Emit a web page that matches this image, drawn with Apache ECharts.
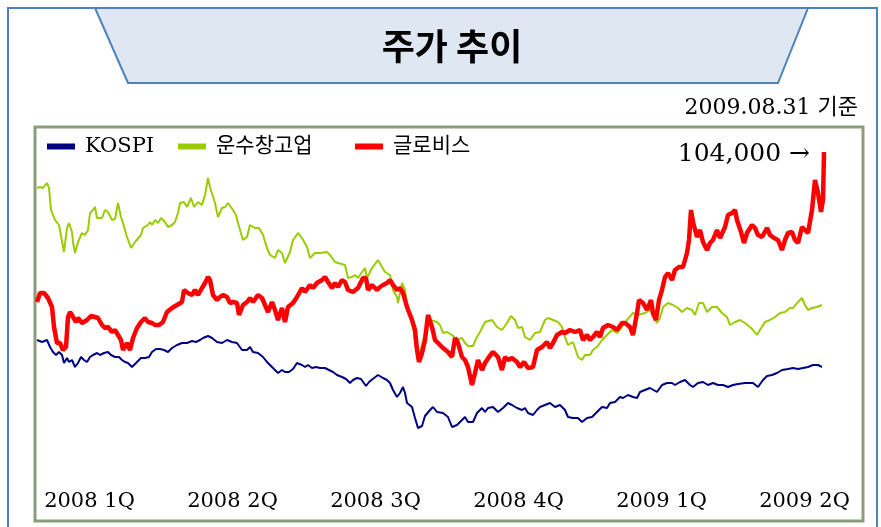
<!DOCTYPE html>
<html>
<head>
<meta charset="utf-8">
<script src="https://cdn.jsdelivr.net/npm/echarts@6/dist/echarts.min.js"></script>
<style>
  html, body { margin: 0; padding: 0; background: #fff; }
  #chart { width: 881px; height: 527px; }
</style>
</head>
<body>
<div id="chart"></div>
<script>
// 분기 라벨
const quarters = ["2008 1Q", "2008 2Q", "2008 3Q", "2008 4Q", "2009 1Q", "2009 2Q"];

// [경과일, 상대지수] - 그림에서 읽은 값
const kospi = [
  [0,180],[5,178],[10,180],[13,173],[16,168],[19,165],[22,168],[25,165],[27,157],[30,162],
  [32,158],[35,160],[38,153],[41,157],[44,163],[47,160],[50,158],[53,163],[56,165],[60,167],
  [63,165],[67,167],[71,168],[74,165],[78,163],[82,163],[85,160],[88,158],[91,157],[95,153],
  [100,158],[104,162],[108,162],[112,163],[115,168],[119,171],[123,171],[127,170],[131,168],[135,172],
  [140,175],[145,177],[150,177],[155,179],[159,178],[163,180],[166,182],[171,184],[175,182],[180,178],
  [185,177],[190,180],[195,178],[200,177],[205,170],[210,170],[213,173],[216,168],[221,167],[226,163],
  [230,158],[235,153],[238,150],[241,147],[245,150],[248,148],[252,148],[256,151],[260,157],[265,155],
  [268,153],[271,155],[275,152],[279,153],[283,152],[288,152],[292,150],[296,148],[300,145],[305,143],
  [309,141],[313,137],[316,140],[320,142],[324,141],[326,143],[329,134],[332,138],[337,142],[341,145],
  [346,142],[350,140],[353,137],[356,130],[360,123],[363,127],[366,133],[368,127],[370,117],[375,113],
  [378,102],[381,92],[385,94],[388,104],[393,110],[396,113],[400,108],[406,107],[411,103],[415,93],
  [420,95],[425,100],[428,103],[431,98],[436,98],[440,107],[445,112],[448,108],[451,112],[456,113],
  [461,108],[466,112],[471,117],[475,115],[480,112],[485,110],[488,112],[491,107],[496,105],[500,110],
  [503,113],[508,115],[513,117],[518,113],[523,115],[528,110],[531,103],[536,102],[541,102],[545,98],
  [550,102],[555,103],[560,108],[565,113],[570,112],[573,117],[578,118],[583,123],[586,122],[591,125],
  [596,123],[600,122],[603,128],[608,130],[613,132],[620,128],[625,135],[630,137],[635,137],[638,135],
  [643,138],[648,140],[653,135],[656,133],[661,137],[666,138],[671,135],[676,137],[681,135],[686,135],
  [691,133],[696,135],[701,136],[708,137],[716,137],[721,133],[726,140],[730,144],[735,145],[740,147],
  [745,150],[751,151],[756,152],[761,151],[766,152],[771,153],[776,155],[781,155],[785,153]
];

const transport = [
  [0,332],[3,333],[6,332],[10,337],[12,332],[14,310],[18,300],[22,295],[24,297],[27,268],
  [30,292],[32,297],[35,288],[36,278],[38,267],[41,278],[43,277],[45,287],[48,285],[51,290],
  [53,307],[56,310],[58,313],[60,302],[65,302],[68,310],[71,308],[75,300],[78,301],[81,317],
  [84,303],[86,297],[90,283],[94,272],[98,278],[104,285],[106,292],[111,295],[113,298],[115,295],
  [118,300],[121,297],[124,302],[128,298],[131,293],[135,295],[138,298],[141,307],[143,317],[147,318],
  [150,313],[154,322],[157,313],[161,318],[165,315],[168,325],[171,342],[173,333],[178,317],[181,303],
  [185,312],[188,313],[191,317],[196,310],[199,305],[201,297],[206,280],[210,283],[213,295],[218,292],
  [222,292],[226,285],[230,272],[233,265],[238,262],[241,270],[245,267],[248,257],[253,268],[256,280],
  [261,287],[265,282],[270,273],[273,262],[278,267],[283,267],[290,268],[293,265],[298,258],[301,257],
  [308,255],[311,242],[315,243],[318,245],[321,242],[325,248],[328,252],[330,242],[335,252],[341,260],
  [345,253],[348,248],[353,245],[356,230],[360,223],[361,217],[365,237],[368,230],[371,210],[375,203],
  [378,177],[381,163],[385,175],[390,195],[393,200],[400,198],[403,195],[406,187],[410,188],[415,185],
  [420,180],[425,182],[428,177],[431,174],[436,174],[440,183],[443,188],[448,198],[455,200],[460,193],
  [465,190],[470,197],[474,204],[478,200],[481,192],[485,193],[488,183],[493,180],[498,187],[503,188],
  [508,200],[511,202],[516,200],[521,198],[525,193],[528,183],[531,175],[536,178],[541,163],[545,160],
  [548,165],[553,165],[556,170],[560,173],[565,180],[570,185],[575,190],[580,187],[585,193],[590,200],
  [596,207],[601,205],[608,207],[613,210],[620,197],[623,202],[626,213],[631,217],[636,215],[641,212],
  [645,208],[650,212],[655,210],[658,205],[662,217],[666,217],[670,208],[675,213],[680,213],[685,207],
  [690,203],[693,195],[698,198],[703,200],[708,197],[713,193],[716,190],[720,185],[723,190],[728,198],
  [733,200],[738,203],[743,207],[748,208],[753,212],[756,212],[760,217],[765,222],[768,215],[771,210],
  [775,212],[780,213],[785,215]
];

const glovis = [
  [0,218],[3,227],[7,227],[11,222],[15,213],[17,193],[20,177],[23,177],[26,170],[29,173],
  [31,203],[33,208],[36,203],[39,198],[41,202],[45,197],[50,200],[54,204],[58,203],[61,202],
  [65,195],[68,192],[71,193],[75,188],[78,190],[81,185],[84,180],[86,170],[90,177],[93,170],
  [96,182],[100,192],[104,198],[108,202],[111,198],[115,197],[118,195],[122,195],[126,198],[130,208],
  [135,212],[140,215],[145,218],[147,230],[151,227],[155,225],[158,230],[161,225],[165,232],[168,237],
  [171,243],[173,240],[176,225],[180,220],[183,223],[186,225],[190,223],[193,217],[196,218],[200,217],
  [202,205],[206,215],[210,218],[213,222],[216,218],[221,225],[225,222],[228,215],[231,208],[235,218],
  [238,210],[241,200],[245,212],[248,198],[251,213],[256,217],[260,223],[265,232],[268,228],[273,235],
  [276,232],[280,237],[285,240],[288,243],[291,238],[295,232],[298,237],[301,233],[305,240],[308,238],
  [311,230],[316,228],[321,232],[326,242],[329,242],[331,230],[335,235],[340,230],[343,233],[346,235],
  [350,237],[353,240],[356,235],[360,230],[363,232],[366,227],[370,213],[375,200],[378,190],[380,170],
  [382,158],[385,167],[388,180],[391,205],[395,193],[398,180],[401,177],[406,172],[411,168],[415,163],
  [418,182],[421,177],[425,163],[428,160],[431,153],[435,135],[438,147],[441,160],[445,150],[448,157],
  [452,163],[456,168],[461,163],[465,150],[468,163],[471,160],[475,162],[480,158],[483,153],[487,158],
  [491,152],[496,153],[500,170],[505,173],[510,178],[513,172],[516,177],[520,185],[525,188],[528,187],
  [533,190],[538,188],[543,190],[546,180],[550,185],[553,180],[556,183],[560,188],[563,183],[566,192],
  [571,195],[576,193],[580,190],[585,197],[588,197],[593,193],[596,185],[600,207],[602,220],[606,217],
  [610,210],[614,220],[616,207],[619,200],[622,220],[625,230],[628,243],[631,247],[635,240],[638,250],
  [642,253],[646,253],[650,267],[652,280],[654,310],[656,298],[660,283],[663,290],[666,278],[670,270],
  [673,277],[676,280],[680,290],[683,282],[688,293],[691,305],[695,307],[698,310],[700,300],[704,288],
  [707,277],[710,287],[715,295],[718,292],[721,285],[725,283],[730,292],[733,285],[737,282],[741,280],
  [745,270],[748,280],[751,287],[755,288],[758,280],[761,277],[765,293],[768,290],[771,287],[775,310],
  [778,340],[781,327],[784,308],[786,320],[787,368]
];

const chart = echarts.init(document.getElementById("chart"));
const latin = "'DejaVu Serif', 'Noto Sans CJK KR', serif";

function legendAt(name, left) {
  return {
    data: [{ name: name, icon: "rect" }],
    left: left,
    top: 131,
    itemWidth: 28,
    itemHeight: 6,
    textStyle: { fontFamily: latin, fontSize: 21, color: "#000", padding: [0, 0, 0, 5] },
  };
}

chart.setOption({
  animation: false,
  backgroundColor: "#fff",
  legend: [legendAt("KOSPI", 42), legendAt("운수창고업", 173), legendAt("글로비스", 350)],
  grid: [
    { left: 37, right: 57, top: 100, bottom: 7 },
    { left: 18, right: 5, top: 487, height: 1 },
  ],
  xAxis: [
    { type: "value", gridIndex: 0, min: 0, max: 787, show: false },
    {
      type: "category",
      gridIndex: 1,
      data: quarters,
      boundaryGap: true,
      axisLine: { show: false },
      axisTick: { show: false },
      axisLabel: { margin: 3, fontFamily: latin, fontSize: 21, color: "#000" },
    },
  ],
  yAxis: [
    { type: "value", gridIndex: 0, min: 0, max: 420, show: false },
    { type: "value", gridIndex: 1, show: false },
  ],
  graphic: [
    // 바깥 테두리
    {
      type: "rect",
      shape: { x: 8, y: 8, width: 869, height: 540 },
      style: { fill: "none", stroke: "#4f81bd", lineWidth: 2 },
      z: 1,
    },
    // 제목 배너
    {
      type: "polygon",
      shape: { points: [[95, 8], [808, 8], [778, 83], [128, 83]] },
      style: { fill: "#dfe7f2", stroke: "#4f81bd", lineWidth: 2 },
      z: 2,
    },
    {
      type: "text",
      x: 452, y: 46,
      style: {
        text: "주가 추이", fontFamily: "'Noto Sans CJK KR', sans-serif",
        fontSize: 36, fontWeight: "bold", fill: "#000", align: "center", verticalAlign: "middle",
      },
      z: 3,
    },
    {
      type: "text",
      x: 858, y: 108,
      style: {
        text: "2009.08.31 기준", fontFamily: latin, fontSize: 22, fill: "#000",
        align: "right", verticalAlign: "middle",
      },
      z: 3,
    },
    // 차트 테두리
    {
      type: "rect",
      shape: { x: 35, y: 127, width: 828, height: 394 },
      style: { fill: "none", stroke: "#8c9b7a", lineWidth: 3 },
      z: 1,
    },
    {
      type: "text",
      x: 810, y: 154,
      style: {
        text: "104,000 →", fontFamily: latin, fontSize: 25, fill: "#000",
        align: "right", verticalAlign: "middle",
      },
      z: 3,
    },
  ],
  series: [
    {
      name: "KOSPI", type: "line", data: kospi, showSymbol: false,
      lineStyle: { color: "#000080", width: 2 }, itemStyle: { color: "#000080" },
    },
    {
      name: "운수창고업", type: "line", data: transport, showSymbol: false,
      lineStyle: { color: "#99cc00", width: 2 }, itemStyle: { color: "#99cc00" },
    },
    {
      name: "글로비스", type: "line", data: glovis, showSymbol: false,
      lineStyle: { color: "#ff0000", width: 4.5 }, itemStyle: { color: "#ff0000" },
    },
  ],
});
</script>
</body>
</html>
